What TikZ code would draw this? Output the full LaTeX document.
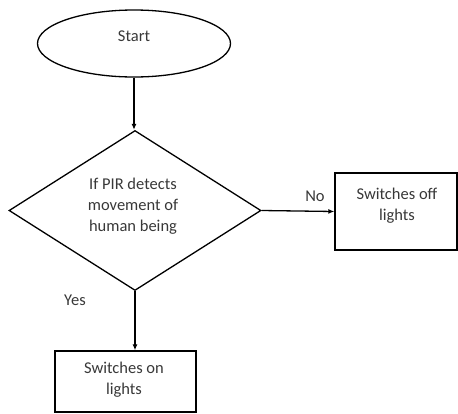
\documentclass[tikz,border=0pt]{standalone}
\usepackage{fontspec}
\setmainfont{Carlito}
\usetikzlibrary{shapes.geometric,arrows.meta}
\begin{document}
\begin{tikzpicture}[x=1pt,y=-1pt,
  every node/.style={font=\fontsize{16.5}{21}\selectfont, text=black!78},
  outline/.style={draw=black, line width=1.3pt},
  txt/.style={align=center, inner sep=0pt},
  conn/.style={draw=black, line width=1.3pt, -{Latex[length=6pt,width=5pt]}},
  procbox/.style={outline, rectangle, inner sep=0pt}]
\useasboundingbox (0,0) rectangle (458,413);
\node[outline, ellipse, minimum width=193pt, minimum height=67pt, inner sep=0pt] (start) at (134,43.5) {};
\node[txt] (starttxt) at (134,36.5) {Start};
\node[outline, diamond, minimum width=252pt, minimum height=160pt, aspect=1.575, inner sep=0pt] (dec) at (135,210.5) {};
\node[txt] (dectxt) at (133,206.5) {If PIR detects\\movement of\\human being};
\node[procbox, minimum width=122pt, minimum height=77pt] (off) at (396,211.5) {};
\node[txt] (offtxt) at (397,206) {Switches off\\lights};
\node[procbox, minimum width=141pt, minimum height=61pt] (on) at (125.5,381.5) {};
\node[txt] (ontxt) at (124,379.5) {Switches on\\lights};
\node[txt] (no) at (315,196) {No};
\node[txt] (yes) at (75,300) {Yes};
\draw[conn] (start.south) -- (start.south |- dec.north);
\draw[conn] (dec.east) -- (off.west);
\draw[conn] (dec.south) -- (dec.south |- on.north);
\end{tikzpicture}
\end{document}
